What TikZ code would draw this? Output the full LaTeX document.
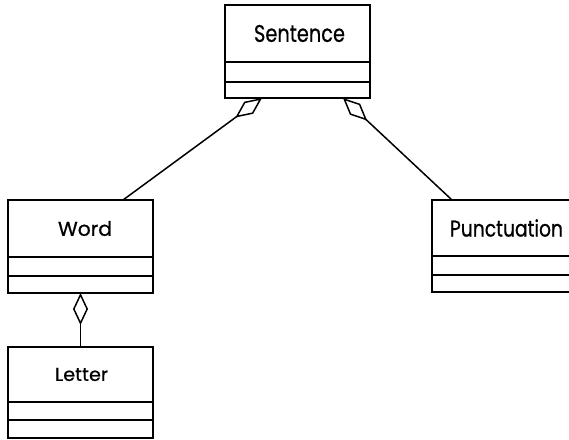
\documentclass[tikz,border=0pt]{standalone}
\usepackage{graphicx}
\usepackage{fontspec}
\setmainfont{Poppins}[FakeBold=0.7]
\usetikzlibrary{arrows.meta,calc}
\newcommand{\clsname}[4]{\hspace*{#4}\raisebox{-2.5pt}{\resizebox{#2}{\height}{\fontsize{#1}{#1}\selectfont #3}}}
\begin{document}
\begin{tikzpicture}[x=1pt,y=-1pt,
  namebox/.style={draw,line width=1.6pt,inner sep=0pt,outer sep=0pt,anchor=north west},
  compbox/.style={draw,line width=1.6pt,inner sep=0pt,outer sep=0pt,anchor=north},
  agg/.style={line width=1.5pt,-{Diamond[open,length=33pt,width=15pt,line width=1.5pt]}}]
\useasboundingbox (0,0) rectangle (569,439);
% Sentence
\node[namebox,minimum width=145pt,minimum height=57pt] (sentence) at (225,5) {\clsname{24}{91pt}{Sentence}{4pt}};
\node[compbox,minimum width=145pt,minimum height=20pt] (sentenceA) at (sentence.south) {};
\node[compbox,minimum width=145pt,minimum height=16pt] (sentenceO) at (sentenceA.south) {};
% Word
\node[namebox,minimum width=145pt,minimum height=57pt] (word) at (8,200) {\clsname{20}{54pt}{Word}{9pt}};
\node[compbox,minimum width=145pt,minimum height=19pt] (wordA) at (word.south) {};
\node[compbox,minimum width=145pt,minimum height=17pt] (wordO) at (wordA.south) {};
% Letter
\node[namebox,minimum width=145pt,minimum height=55pt] (letter) at (8,347) {\clsname{18.6}{53pt}{Letter}{2pt}};
\node[compbox,minimum width=145pt,minimum height=18pt] (letterA) at (letter.south) {};
\node[compbox,minimum width=145pt,minimum height=18pt] (letterO) at (letterA.south) {};
% Punctuation
\node[namebox,minimum width=149pt,minimum height=56pt] (punct) at (432,200) {\clsname{22.8}{113pt}{Punctuation}{0pt}};
\node[compbox,minimum width=149pt,minimum height=19pt] (punctA) at (punct.south) {};
\node[compbox,minimum width=149pt,minimum height=17pt] (punctO) at (punctA.south) {};
% connector ends
\coordinate (wtop) at ($(word.north west)+(115,0)$);
\coordinate (stl) at ($(sentenceO.south west)+(37,0)$);
\coordinate (str) at ($(sentenceO.south west)+(118,0)$);
\coordinate (ptop) at ($(punct.north west)+(20,0)$);
\draw[agg] (wtop) -- (stl);
\draw[agg] (ptop) -- (str);
\draw[agg,-{Diamond[open,length=32pt,width=15pt,line width=1.5pt]}] (letter.north) -- (wordO.south);
\end{tikzpicture}
\end{document}
